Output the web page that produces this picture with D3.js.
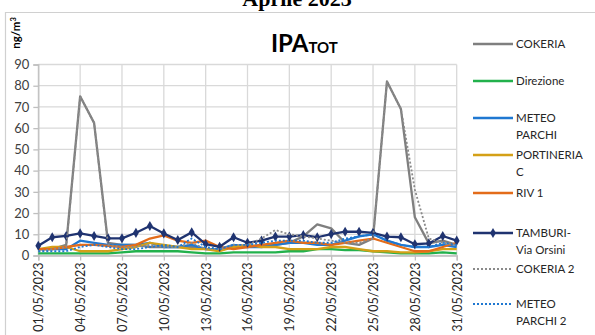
<!DOCTYPE html>
<html><head><meta charset="utf-8">
<script src="https://cdn.jsdelivr.net/npm/d3@7"></script>
<style>
html,body{margin:0;padding:0;background:#fff;}
svg{display:block;}
text{font-family:Lato, "Open Sans", sans-serif;}
</style></head>
<body>
<svg id="chart" width="595" height="335"></svg>
<script>
// ---- data ----
const dates = d3.range(1, 32).map(d => new Date(2023, 4, d));
const tickDates = [1,4,7,10,13,16,19,22,25,28,31].map(d => new Date(2023, 4, d));
const yTicks = [0,10,20,30,40,50,60,70,80,90];

const cokeria     = [3,3,5,75,62.5,6,5,5,4,4,4,4,3,3,4,4,5,5,6,9,14.7,12.8,6,5,8,82,69,18,5.7,7,5];
const direzione   = [1,1,1,1,1,1,1.5,2,2,2,2,1.5,1,1,1.5,1.5,1.5,1.5,2,2,3,3,2.5,2.5,2,1.5,1,1,1,1.5,1];
const meteoParchi = [3,3,3,7,6,5,5,5,6,4,4,5,3,3,5,4,4,5,6,6,5,5,7,9,10,7,5,4,4,5,4];
const portineria  = [3,4,4,2,2,2,3,4,6,5,4,3,3,2,4,5,4,4,3,3,3,4,4,3,2,2,1.5,1.5,2,3,3];
const riv1        = [3,3,4,5,5,4.5,4,5,8,9.5,7,6,7,4,3,4,5,6,7,6,6,5,6,7,8,6,4,2,2,4,6];
const tamburi     = [4.6,8.6,9.2,10.4,9.2,8.1,8.1,10.7,13.9,10.4,7.3,10.9,5.4,4.1,8.6,6.0,7.0,8.9,8.9,9.6,8.6,10.1,11.2,11.2,10.7,8.9,8.6,5.3,5.7,9.2,7.0];
const cokeria2    = [2,3,4,75,62.5,5,4,4,5,4,4,6,3,3,5,5,8,12,10,9,8,7,6,6,8,82,69,31,8,6,5];
const meteoParchi2= [2,2,2,4,5,4,3,3,4,5,4,8,4,3,5,5,6,7,7,7,6,6,8,9,10,7,5,4,4,6,5];

const seriesNames = ["COKERIA","Direzione","METEO PARCHI","PORTINERIA C","RIV 1","TAMBURI-Via Orsini","COKERIA 2","METEO PARCHI 2"];
const legendLabels = [["COKERIA"],["Direzione"],["METEO","PARCHI"],["PORTINERIA","C"],["RIV 1"],["TAMBURI-","Via Orsini"],["COKERIA 2"],["METEO","PARCHI 2"]];
const seriesValues = [cokeria, direzione, meteoParchi, portineria, riv1, tamburi, cokeria2, meteoParchi2];
const seriesColors = ["#7f7f7f","#22b14c","#1f78d1","#d4a017","#e36c1a","#1f3370","#8a8a8a","#1f78d1"];
const seriesDash   = [null,null,null,null,null,null,"2,2","2,2"];
const seriesMarker = [false,false,false,false,false,true,false,false];

// ---- layout ----
const svg = d3.select("#chart");
const pLeft = 38.3, pRight = 456.7, pTop = 64.5, pBottom = 255.5;

const x = d3.scaleTime().domain([dates[0], dates[30]]).range([pLeft, pRight]);
const y = d3.scaleLinear().domain([0, 90]).range([pBottom, pTop]);

// frame
svg.append("line").attr("x1",5).attr("x2",595).attr("y1",12.5).attr("y2",12.5).attr("stroke","#d0d0d0").attr("stroke-width",1.2);
svg.append("line").attr("x1",5.5).attr("x2",5.5).attr("y1",12).attr("y2",335).attr("stroke","#d0d0d0").attr("stroke-width",1.2);

// top title (clipped at top edge, as in the reference)
svg.append("text").attr("x",297).attr("y",6).attr("text-anchor","middle")
  .style("font-family","'Liberation Serif', 'DejaVu Serif', serif").style("font-weight","bold").style("font-size","22px")
  .attr("fill","#000").text("Aprile 2023");

// chart title
const t = svg.append("text").attr("x",271).attr("y",52).style("font-weight","bold").attr("fill","#000");
t.append("tspan").style("font-size","24px").text("IPA");
t.append("tspan").style("font-size","15px").attr("dy",1).text("TOT");

// unit label
svg.append("text").attr("transform","translate(20,33) rotate(-90)").attr("text-anchor","middle")
  .style("font-weight","bold").style("font-size","11.5px").attr("fill","#000")
  .text("ng/m").append("tspan").attr("dy",-4).style("font-size","7.5px").text("3");

// grid
svg.append("g").selectAll("line").data(yTicks).join("line")
  .attr("x1",pLeft).attr("x2",pRight).attr("y1",d=>y(d)).attr("y2",d=>y(d))
  .attr("stroke","#d9d9d9").attr("stroke-width",1.3);
svg.append("g").selectAll("line").data(tickDates).join("line")
  .attr("x1",d=>x(d)).attr("x2",d=>x(d)).attr("y1",pTop).attr("y2",pBottom)
  .attr("stroke","#d9d9d9").attr("stroke-width",1.3);

// y axis
const yAxis = svg.append("g").attr("transform",`translate(${pLeft},0)`)
  .call(d3.axisLeft(y).tickValues(yTicks).tickSize(5).tickPadding(4));
yAxis.select(".domain").attr("stroke","#bfbfbf").attr("stroke-width",1.3);
yAxis.selectAll(".tick line").attr("stroke","#bfbfbf").attr("stroke-width",1.3);
yAxis.selectAll("text").style("font-size","13px").style("font-family","Lato, sans-serif").attr("fill","#404040");

// x axis
const xAxis = svg.append("g").attr("transform",`translate(0,${pBottom})`)
  .call(d3.axisBottom(x).tickValues(tickDates).tickSize(5).tickFormat(d3.timeFormat("%d/%m/%Y")));
xAxis.select(".domain").attr("stroke","#bfbfbf").attr("stroke-width",1.3);
xAxis.selectAll(".tick line").attr("stroke","#bfbfbf").attr("stroke-width",1.3);
xAxis.selectAll("text").style("font-size","12.5px").style("font-family","Lato, sans-serif").attr("fill","#262626")
  .attr("text-anchor","end").attr("transform","rotate(-90)").attr("x",-7).attr("y",0).attr("dy","0.35em");

// series
const line = d3.line().x((d,i)=>x(dates[i])).y(d=>y(d));
const sg = svg.append("g");
seriesValues.forEach((vals, k) => {
  sg.append("path").datum(vals).attr("d", line).attr("fill","none")
    .attr("stroke", seriesColors[k]).attr("stroke-width", seriesDash[k] ? 1.8 : 2.3)
    .attr("stroke-dasharray", seriesDash[k]).attr("stroke-linejoin","round");
  if (seriesMarker[k]) {
    sg.append("g").selectAll("path").data(vals).join("path")
      .attr("d", d3.symbol(d3.symbolDiamond, 30))
      .attr("transform",(d,i)=>`translate(${x(dates[i])},${y(d)})`)
      .attr("fill", seriesColors[k]);
  }
});

// legend
const legendY = [44, 81, 118, 155, 193, 233, 269, 304];
const lg = svg.append("g");
seriesNames.forEach((name, k) => {
  const gy = legendY[k];
  lg.append("line").attr("x1",473).attr("x2",513).attr("y1",gy).attr("y2",gy)
    .attr("stroke",seriesColors[k]).attr("stroke-width", seriesDash[k] ? 1.8 : 2.3)
    .attr("stroke-dasharray", seriesDash[k]);
  if (seriesMarker[k]) {
    lg.append("path").attr("d", d3.symbol(d3.symbolDiamond, 30)).attr("transform",`translate(493,${gy})`).attr("fill",seriesColors[k]);
  }
  legendLabels[k].forEach((ln, j) => {
    lg.append("text").attr("x",516).attr("y",gy + j*17).attr("dy","0.35em")
      .style("font-size","11.5px").attr("fill","#262626").text(ln);
  });
});
</script>
</body></html>
